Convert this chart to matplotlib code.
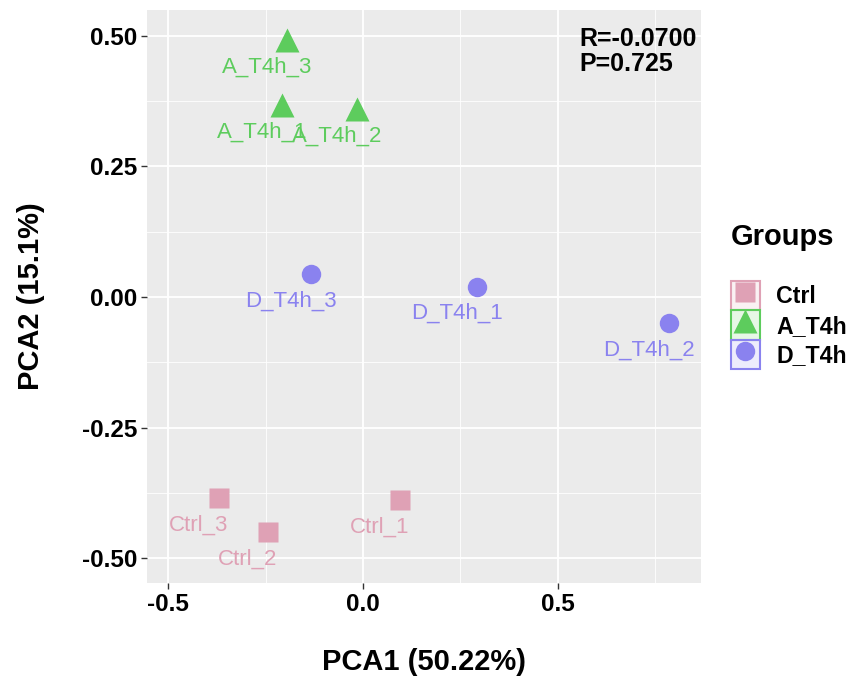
import matplotlib.pyplot as plt
from matplotlib.patches import Rectangle
from matplotlib.lines import Line2D
from matplotlib.legend_handler import HandlerTuple

plt.rcParams['font.family'] = ['Liberation Sans', 'DejaVu Sans']

# PCA scores
groups = ['Ctrl', 'A_T4h', 'D_T4h']
colors = ['#DFA1B5', '#5DCC5D', '#8A82EF']
markers = ['s', '^', 'o']
sizes = [14, 17, 14]
samples = {
    'Ctrl': ['Ctrl_1', 'Ctrl_2', 'Ctrl_3'],
    'A_T4h': ['A_T4h_1', 'A_T4h_2', 'A_T4h_3'],
    'D_T4h': ['D_T4h_1', 'D_T4h_2', 'D_T4h_3'],
}
pc1 = {
    'Ctrl': [0.095, -0.244, -0.369],
    'A_T4h': [-0.208, -0.015, -0.195],
    'D_T4h': [0.292, 0.785, -0.133],
}
pc2 = {
    'Ctrl': [-0.389, -0.449, -0.385],
    'A_T4h': [0.367, 0.359, 0.491],
    'D_T4h': [0.020, -0.050, 0.044],
}
xticks = [-0.5, 0.0, 0.5]
yticks = [-0.50, -0.25, 0.00, 0.25, 0.50]
stat_text = 'R=-0.0700\nP=0.725'

fig = plt.figure(figsize=(8.5, 6.81), dpi=100)
ax = fig.add_axes([147 / 850, 1 - 583 / 681, 554 / 850, 573 / 681])
ax.set_facecolor('#EBEBEB')
for s in ax.spines.values():
    s.set_visible(False)

ax.set_xlim(-0.554, 0.867)
ax.set_ylim(-0.547, 0.549)
ax.set_xticks(xticks)
ax.set_yticks(yticks)
ax.set_xticks([-0.25, 0.25, 0.75], minor=True)
ax.set_yticks([-0.375, -0.125, 0.125, 0.375], minor=True)
ax.grid(True, which='major', color='white', lw=1.3)
ax.grid(True, which='minor', color='white', lw=0.6)
ax.set_axisbelow(True)
ax.tick_params(which='major', length=4, width=1, color='#333333',
               labelsize=17.5, pad=3)
ax.tick_params(which='minor', length=0)
ax.set_xticklabels(['-0.5', '0.0', '0.5'], fontweight='bold')
ax.set_yticklabels(['-0.50', '-0.25', '0.00', '0.25', '0.50'], fontweight='bold')

handles = []
for g, c, m, ms in zip(groups, colors, markers, sizes):
    ax.plot(pc1[g], pc2[g], ls='none', marker=m, ms=ms, color=c, mec='none')
    for name, x, y in zip(samples[g], pc1[g], pc2[g]):
        ax.annotate(name, (x, y), xytext=(-14.5, -19.5), textcoords='offset points',
                    ha='center', va='center', fontsize=16, color=c)
    box = Rectangle((0, 0), 1, 1, facecolor=c, alpha=0.15, edgecolor='none')
    edge = Rectangle((0, 0), 1, 1, facecolor='none', edgecolor=c, lw=1.5)
    dot = Line2D([], [], ls='none', marker=m, ms=ms, color=c, mec='none')
    handles.append((box, edge, dot))

ax.text(579 / 850, 1 - 27 / 681, stat_text, transform=fig.transFigure,
        ha='left', va='top', fontsize=18, fontweight='bold', linespacing=1.05)

fig.text(424 / 850, 1 - 662 / 681, 'PCA1 (50.22%)', ha='center', va='center',
         fontsize=21, fontweight='bold')
fig.text(31 / 850, 1 - 296 / 681, 'PCA2 (15.1%)', ha='center', va='center',
         rotation=90, fontsize=21, fontweight='bold')

fig.text(731 / 850, 1 - 237 / 681, 'Groups', ha='left', va='center',
         fontsize=21, fontweight='bold')
leg = fig.legend(handles, groups, loc='upper left',
                 bbox_to_anchor=(731 / 850, 1 - 281 / 681),
                 bbox_transform=fig.transFigure, frameon=False,
                 handler_map={tuple: HandlerTuple(ndivide=1, pad=0)},
                 prop={'size': 16.7, 'weight': 'bold'},
                 handlelength=1.25, handleheight=1.57, labelspacing=0.0,
                 handletextpad=0.7, borderpad=0, borderaxespad=0)

fig.savefig('out.png', dpi=100)
